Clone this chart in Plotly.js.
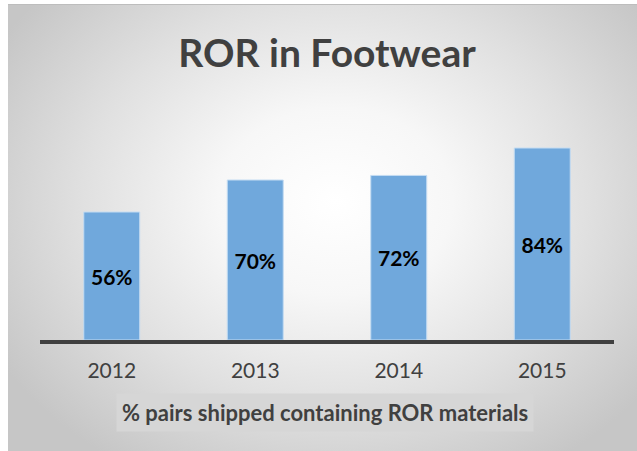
<!DOCTYPE html>
<html>
<head>
<meta charset="utf-8">
<script src="https://cdn.plot.ly/plotly-3.0.1.min.js"></script>
<style>
  html, body { margin: 0; padding: 0; background: #ffffff; }
  #bg {
    position: absolute; left: 8px; top: 4px; width: 629px; height: 447px;
    background: radial-gradient(ellipse 62% 70% at 52% 44%, #ffffff 0%, #f7f7f7 30%, #e0e0e0 65%, #c6c6c6 100%);
    border-top: 1px solid #bdbdbd;
  }
  #chart { position: absolute; left: 0; top: 0; width: 637px; height: 451px; }
</style>
</head>
<body>
<div id="bg"></div>
<div id="chart"></div>
<script>
// chart data
var years = ['2012', '2013', '2014', '2015'];
var rorPercent = [56, 70, 72, 84];

var chartTitle = 'ROR in Footwear';
var axisCaption = '% pairs shipped containing ROR materials';

var bars = {
    x: years,
    y: rorPercent,
    type: 'bar',
    texttemplate: '%{y}%',
    textposition: 'inside',
    insidetextanchor: 'middle',
    constraintext: 'none',
    textfont: {family: 'Lato, sans-serif', size: 21, color: '#000000', weight: 700},
    marker: {
        color: '#70a8dc',
        line: {color: '#c4dcf2', width: 1}
    },
    hoverinfo: 'none'
};

var layout = {
    width: 637,
    height: 451,
    margin: {l: 40, r: 23, t: 100, b: 111},
    paper_bgcolor: 'rgba(0,0,0,0)',
    plot_bgcolor: 'rgba(0,0,0,0)',
    bargap: 0.61,
    showlegend: false,
    font: {family: 'Lato, sans-serif', color: '#404040'},
    title: {
        text: chartTitle,
        font: {family: 'Lato, sans-serif', size: 39, color: '#404040', weight: 700},
        x: 0.5, xanchor: 'center',
        y: 0.882, yanchor: 'middle',
        xref: 'paper', yref: 'container'
    },
    xaxis: {
        type: 'category',
        showline: true,
        linecolor: '#404040',
        linewidth: 4,
        showgrid: false,
        zeroline: false,
        ticks: 'outside',
        ticklen: 9,
        tickcolor: 'rgba(0,0,0,0)',
        tickfont: {family: 'Lato, sans-serif', size: 21, color: '#404040'}
    },
    yaxis: {
        range: [0, 105],
        visible: false,
        showgrid: false,
        zeroline: false
    },
    annotations: [{
        text: '<b>' + axisCaption + '</b>',
        xref: 'paper', yref: 'paper',
        x: 0.497, y: -0.3,
        xanchor: 'center', yanchor: 'middle',
        showarrow: false,
        font: {family: 'Lato, sans-serif', size: 22, color: '#404040'},
        bgcolor: '#d6d6d6',
        borderpad: 5
    }]
};

Plotly.newPlot('chart', [bars], layout, {displayModeBar: false, staticPlot: true});
</script>
</body>
</html>
